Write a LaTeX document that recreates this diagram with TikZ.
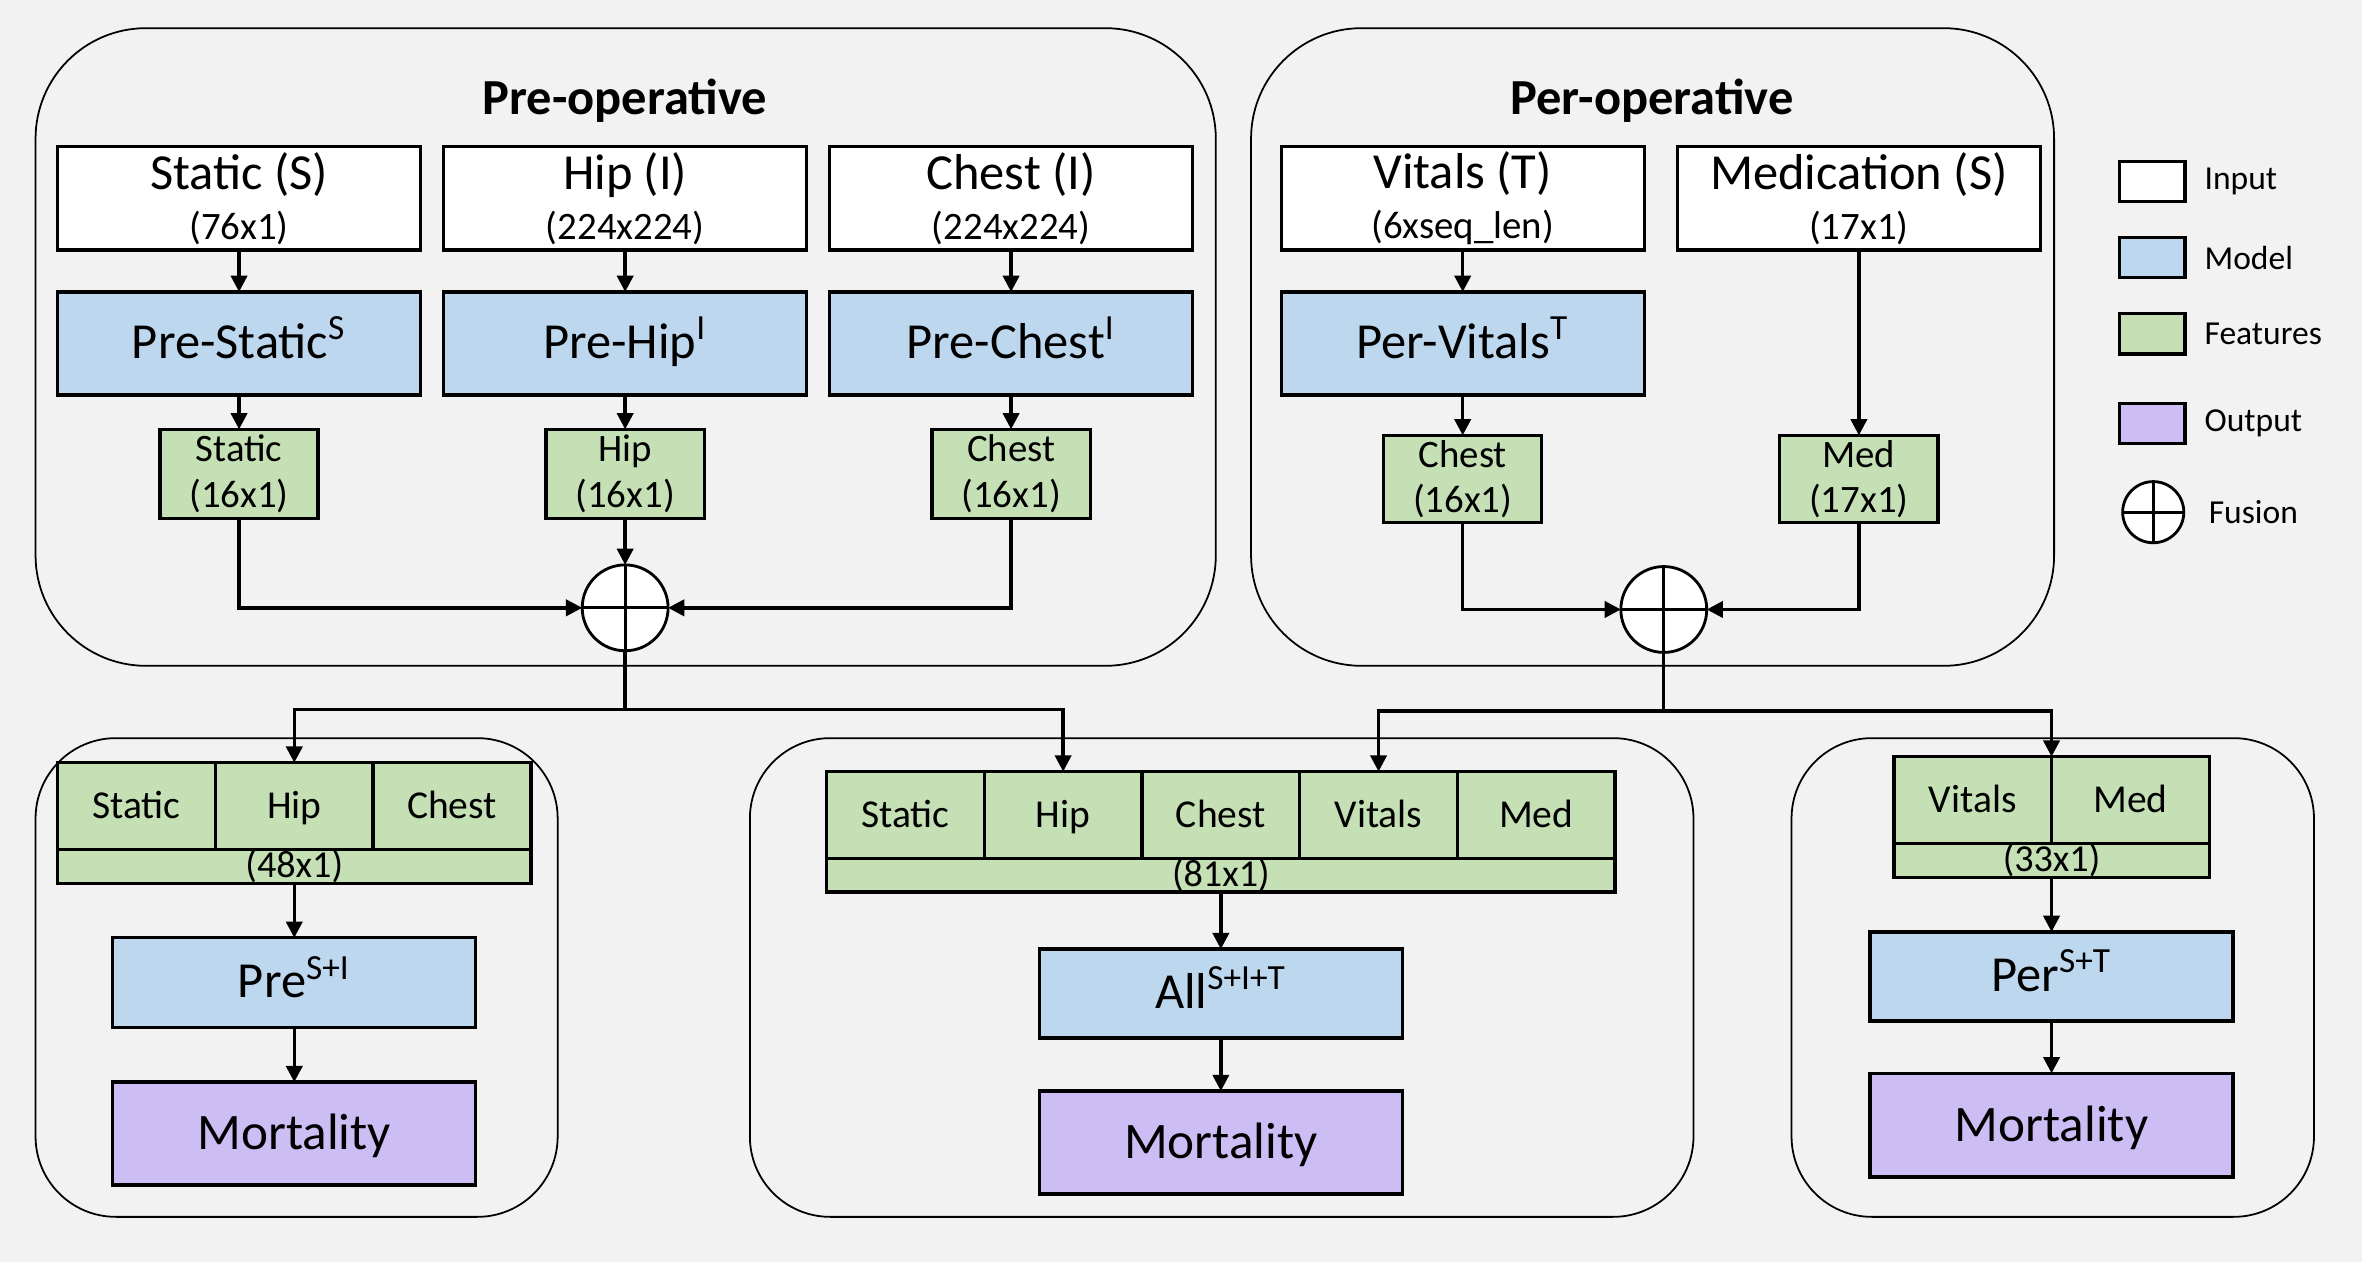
\documentclass[tikz,border=0pt]{standalone}
\usepackage{fontspec}
\setmainfont{Carlito}
\usetikzlibrary{arrows.meta}
\definecolor{bgc}{HTML}{F2F2F2}
\definecolor{modelc}{HTML}{BDD7EE}
\definecolor{featc}{HTML}{C5E0B4}
\definecolor{outc}{RGB}{205,189,245}
\begin{document}
\begin{tikzpicture}[x=0.015cm,y=-0.015cm,
  every node/.style={inner sep=0pt, outer sep=0pt},
  box/.style={draw=black, line width=0.95pt, align=center},
  inbox/.style={box, fill=white, minimum width=3.615cm, minimum height=1.0275cm, font=\fontsize{14.3}{14.1}\selectfont},
  modbox/.style={box, fill=modelc, minimum width=3.615cm, minimum height=1.0275cm, font=\fontsize{14.3}{16}\selectfont, text height=12pt, text depth=3.6pt},
  featbox/.style={box, fill=featc, minimum width=1.575cm, minimum height=0.885cm, font=\fontsize{11}{12.9}\selectfont},
  cell/.style={box, fill=featc, minimum width=1.5705cm, minimum height=0.8655cm, font=\fontsize{11.2}{13}\selectfont, text height=9.7pt, text depth=2.8pt},
  strip/.style={box, fill=featc, minimum height=0.3345cm, font=\fontsize{10.8}{12}\selectfont},
  outbox/.style={box, fill=outc, minimum width=3.615cm, minimum height=1.0245cm, font=\fontsize{14.5}{16}\selectfont, text height=12.7pt, text depth=3.6pt},
  fusion/.style={circle, draw=black, line width=0.8pt, fill=white, minimum size=0.855cm,
    path picture={\draw[line width=0.8pt] (path picture bounding box.north) -- (path picture bounding box.south) (path picture bounding box.west) -- (path picture bounding box.east);}},
  group/.style={draw=black, line width=0.5pt, rounded corners=1.1cm},
  conn/.style={line width=0.95pt},
  arr/.style={conn, -{Triangle[length=4.6pt,width=4.6pt]}},
  title/.style={font=\fontsize{14.3}{16}\bfseries\selectfont, anchor=base},
  leg/.style={anchor=west, font=\fontsize{9.5}{11}\selectfont},
  legbox/.style={draw=black, line width=0.95pt, minimum width=0.6555cm, minimum height=0.402cm}
]
\useasboundingbox (0,0) rectangle (1568,838);
\fill[bgc] (0,0) rectangle (1568,838);

% groups
\draw[group] (23.6,18.7) rectangle (807.1,442);
\draw[group] (830.5,18.7) rectangle (1363.6,442);
\draw[group, rounded corners=0.8cm] (23.6,490) rectangle (370.2,807.8);
\draw[group, rounded corners=0.8cm] (497.8,490) rectangle (1124.2,807.8);
\draw[group, rounded corners=0.8cm] (1189.3,490) rectangle (1536.1,807.8);

% titles
\node[title] (tpre) at (414.8,76.3) {Pre-operative};
\node[title] (tper) at (1096.6,76.3) {Per-operative};

% pre-operative inputs
\node[inbox] (is) at (158.7,131.7) {Static (S)\\{\fontsize{11}{14.1}\selectfont (76x1)}};
\node[inbox] (ih) at (415,131.7) {Hip (I)\\{\fontsize{11}{14.1}\selectfont (224x224)}};
\node[inbox] (ic) at (671.2,131.7) {Chest (I)\\{\fontsize{11}{14.1}\selectfont (224x224)}};
% models
\node[modbox] (ms) at (158.7,228) {Pre-Static\textsuperscript{S}};
\node[modbox] (mh) at (415,228) {Pre-Hip\textsuperscript{I}};
\node[modbox] (mc) at (671.2,228) {Pre-Chest\textsuperscript{I}};
% features
\node[featbox] (fs) at (158.7,314.5) {Static\\(16x1)};
\node[featbox] (fh) at (415,314.5) {Hip\\(16x1)};
\node[featbox] (fc) at (671.2,314.5) {Chest\\(16x1)};
\node[fusion] (fpre) at (415,403.5) {};

% per-operative
\node[inbox] (iv) at (971,131.7) {Vitals (T)\\{\fontsize{11}{14.1}\selectfont (6xseq\_len)}};
\node[inbox] (imed) at (1234,131.7) {Medication (S)\\{\fontsize{11}{14.1}\selectfont (17x1)}};
\node[modbox] (mv) at (971,228) {Per-Vitals\textsuperscript{T}};
\node[featbox, minimum height=0.87cm] (fv) at (971,318) {Chest\\(16x1)};
\node[featbox, minimum height=0.87cm] (fmed) at (1234,318) {Med\\(17x1)};
\node[fusion] (fper) at (1104.5,404.6) {};

% legend
\node[legbox, fill=white] (lg1) at (1428.7,120.5) {};
\node[legbox, fill=modelc] (lg2) at (1428.7,171) {};
\node[legbox, fill=featc] (lg3) at (1428.7,221.5) {};
\node[legbox, fill=outc] (lg4) at (1428.7,281.2) {};
\node[fusion, minimum size=0.609cm] (lg5) at (1429.4,340) {};
\node[leg] (lt1) at (1463.5,120.5) {Input};
\node[leg] (lt2) at (1463.5,171) {Model};
\node[leg] (lt3) at (1463.5,221.5) {Features};
\node[leg] (lt4) at (1463.5,281.2) {Output};
\node[leg] (lt5) at (1466.3,340) {Fusion};

% bottom left
\node[cell] (lc1) at (90.65,535.15) {Static};
\node[cell] (lc2) at (195.35,535.15) {Hip};
\node[cell] (lc3) at (300.05,535.15) {Chest};
\node[strip, minimum width=4.7115cm] (lst) at (195.35,575.15) {(48x1)};
\node[modbox, minimum height=0.8955cm] (lm) at (195.35,652.4) {Pre\textsuperscript{S+I}};
\node[outbox] (lo) at (195.35,752.5) {Mortality};

% bottom middle
\node[cell] (mc1) at (601.05,541.05) {Static};
\node[cell] (mc2) at (705.75,541.05) {Hip};
\node[cell] (mc3) at (810.45,541.05) {Chest};
\node[cell] (mc4) at (915.15,541.05) {Vitals};
\node[cell] (mc5) at (1019.85,541.05) {Med};
\node[strip, minimum width=7.8525cm] (mst) at (810.45,581) {(81x1)};
\node[modbox, minimum height=0.8835cm] (mm) at (810.45,659.5) {All\textsuperscript{S+I+T}};
\node[outbox] (mo) at (810.45,758.4) {Mortality};

% bottom right
\node[cell] (rc1) at (1309.55,531.15) {Vitals};
\node[cell] (rc2) at (1414.25,531.15) {Med};
\node[strip, minimum width=3.141cm] (rst) at (1361.9,571.2) {(33x1)};
\node[modbox, minimum height=0.8865cm] (rm) at (1361.9,648.2) {Per\textsuperscript{S+T}};
\node[outbox, minimum height=1.032cm] (ro) at (1361.9,746.9) {Mortality};

% connectors pre
\draw[arr] (is.south) -- (ms.north);
\draw[arr] (ih.south) -- (mh.north);
\draw[arr] (ic.south) -- (mc.north);
\draw[arr] (ms.south) -- (fs.north);
\draw[arr] (mh.south) -- (fh.north);
\draw[arr] (mc.south) -- (fc.north);
\draw[arr] (fs.south) |- (fpre.west);
\draw[arr] (fh.south) -- (fpre.north);
\draw[arr] (fc.south) |- (fpre.east);

% connectors per
\draw[arr] (iv.south) -- (mv.north);
\draw[arr] (mv.south) -- (fv.north);
\draw[arr] (imed.south) -- (fmed.north);
\draw[arr] (fv.south) |- (fper.west);
\draw[arr] (fmed.south) |- (fper.east);

% distribution
\coordinate (jpre) at (415,471);
\coordinate (jper) at (1104.5,472);
\draw[conn] (fpre.south) -- (jpre);
\draw[arr] (jpre) -| (lc2.north);
\draw[arr] (jpre) -| (mc2.north);
\draw[conn] (fper.south) -- (jper);
\draw[arr] (jper) -| (mc4.north);
\draw[arr] (jper) -| (rc1.north east);

% bottom connectors
\draw[arr] (lst.south) -- (lm.north);
\draw[arr] (lm.south) -- (lo.north);
\draw[arr] (mst.south) -- (mm.north);
\draw[arr] (mm.south) -- (mo.north);
\draw[arr] (rst.south) -- (rm.north);
\draw[arr] (rm.south) -- (ro.north);
\end{tikzpicture}
\end{document}
